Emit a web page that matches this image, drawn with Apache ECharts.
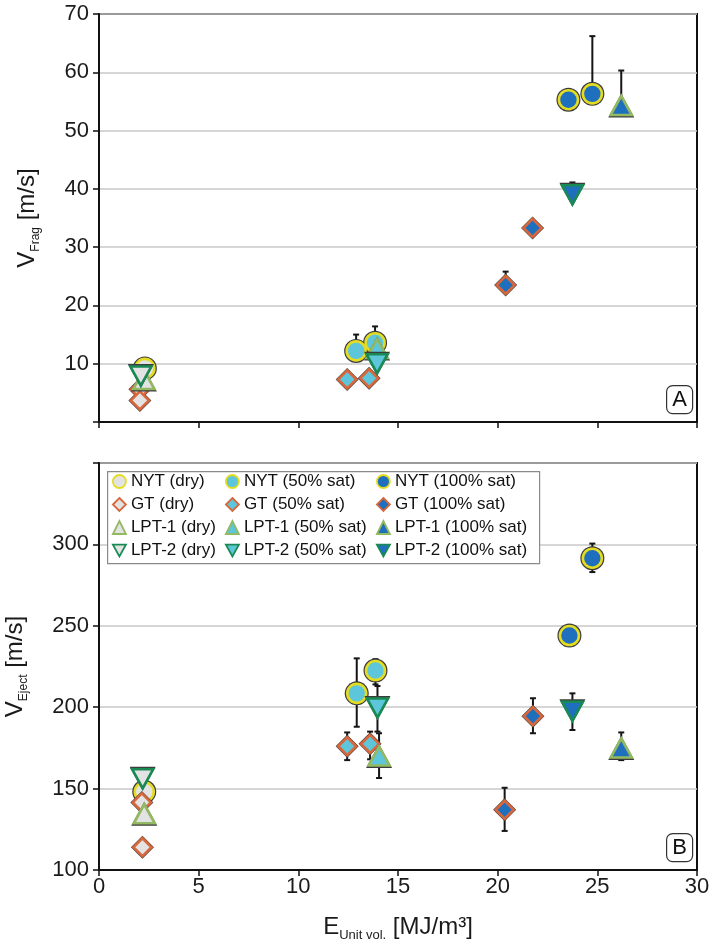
<!DOCTYPE html>
<html><head><meta charset="utf-8">
<script src="https://cdn.jsdelivr.net/npm/echarts@6/dist/echarts.min.js"></script>
<style>html,body{margin:0;padding:0;background:#fff}#c{width:709px;height:947px}</style>
</head><body><div id="c"></div>
<script>
// ---------- DATA ----------
const xTicks = [0, 5, 10, 15, 20, 25, 30];
const fragTicks = [0, 10, 20, 30, 40, 50, 60, 70];
const ejectTicks = [100, 150, 200, 250, 300, 350];

const materials = ['NYT', 'GT', 'LPT-1', 'LPT-2'];
const saturations = ['dry', '50% sat', '100% sat'];

// Panel A: V_Frag [m/s] vs E_Unit vol. [MJ/m3]   [E, V]
const fragNYTdry = [[2.3, 9.2]];
const fragNYT50 = [[12.9, 12.2], [13.85, 13.6]];
const fragNYT100 = [[23.55, 55.3], [24.75, 56.3]];
const fragGTdry = [[2.05, 5.6], [2.05, 3.7]];
const fragGT50 = [[12.45, 7.3], [13.55, 7.5]];
const fragGT100 = [[20.4, 23.5], [21.75, 33.3]];
const fragLPT1dry = [[2.25, 7.3]];
const fragLPT150 = [[13.95, 12.6]];
const fragLPT1100 = [[26.2, 54.3]];
const fragLPT2dry = [[2.1, 7.9]];
const fragLPT250 = [[13.95, 10.0]];
const fragLPT2100 = [[23.75, 39.0]];
// error bars [E, low, high]
const fragErr = [[12.9, 12.2, 15.0], [13.85, 13.6, 16.4], [24.75, 56.3, 66.2],
                 [26.2, 54.3, 60.3], [23.75, 39.0, 41.1], [20.4, 23.5, 25.8]];

// Panel B: V_Eject [m/s] vs E_Unit vol. [MJ/m3]   [E, V]
const ejNYTdry = [[2.27, 148]];
const ejNYT50 = [[12.93, 208.5], [13.87, 222.5]];
const ejNYT100 = [[23.6, 244], [24.75, 291.5]];
const ejGTdry = [[2.15, 141.5], [2.18, 114]];
const ejGT50 = [[12.45, 176], [13.6, 177.5]];
const ejGT100 = [[20.35, 137], [21.77, 194.5]];
const ejLPT1dry = [[2.27, 134.5]];
const ejLPT150 = [[14.05, 170]];
const ejLPT1100 = [[26.2, 175]];
const ejLPT2dry = [[2.19, 156]];
const ejLPT250 = [[13.97, 199.5]];
const ejLPT2100 = [[23.75, 197.5]];
const ejErr = [[12.93, 188, 230], [13.87, 214, 229.5], [23.6, 238.5, 249], [24.75, 283, 300.5],
               [12.45, 167.5, 184.5], [13.6, 168, 185], [20.35, 124, 150.5], [21.77, 184, 205.5],
               [14.05, 156.5, 184], [26.2, 167.5, 184.5], [13.97, 185, 213], [23.75, 186, 208.5]];

// ---------- STYLE ----------
const FONT = 'Liberation Sans, Arial, sans-serif';
const fillBySat = {'dry': '#e3e3e3', '50% sat': '#5ec6db', '100% sat': '#1f6fbf'};
const DOWN_TRI = 'path://M0,0L20,0L10,18Z';
const matStyle = {
  'NYT':   {symbol: 'circle',   size: [19, 19], border: '#e4dc22'},
  'GT':    {symbol: 'diamond',  size: [18, 18], border: '#d8673c'},
  'LPT-1': {symbol: 'triangle', size: [21, 19], border: '#93b963'},
  'LPT-2': {symbol: DOWN_TRI,   size: [21, 19], border: '#1a8a55'}
};
const fragData = {
  'NYT': [fragNYTdry, fragNYT50, fragNYT100], 'GT': [fragGTdry, fragGT50, fragGT100],
  'LPT-1': [fragLPT1dry, fragLPT150, fragLPT1100], 'LPT-2': [fragLPT2dry, fragLPT250, fragLPT2100]
};
const ejData = {
  'NYT': [ejNYTdry, ejNYT50, ejNYT100], 'GT': [ejGTdry, ejGT50, ejGT100],
  'LPT-1': [ejLPT1dry, ejLPT150, ejLPT1100], 'LPT-2': [ejLPT2dry, ejLPT250, ejLPT2100]
};

function errRender(params, api) {
  const x = api.value(0), lo = api.value(1), hi = api.value(2);
  const a = api.coord([x, lo]), b = api.coord([x, hi]);
  const c = 3;
  const st = {stroke: '#151515', lineWidth: 2};
  return {type: 'group', children: [
    {type: 'line', shape: {x1: a[0], y1: a[1], x2: b[0], y2: b[1]}, style: st},
    {type: 'line', shape: {x1: b[0] - c, y1: b[1], x2: b[0] + c, y2: b[1]}, style: st},
    {type: 'line', shape: {x1: a[0] - c, y1: a[1], x2: a[0] + c, y2: a[1]}, style: st}
  ]};
}

const series = [];
series.push({type: 'custom', xAxisIndex: 0, yAxisIndex: 0, data: fragErr, renderItem: errRender, z: 1, silent: true, encode: {x: 0, y: [1, 2]}});
series.push({type: 'custom', xAxisIndex: 1, yAxisIndex: 1, data: ejErr, renderItem: errRender, z: 1, silent: true, encode: {x: 0, y: [1, 2]}});

[[fragData, 0], [ejData, 1]].forEach(([dat, gi]) => {
  materials.forEach(m => {
    saturations.forEach((s, si) => {
      const ms = matStyle[m];
      const name = m + ' (' + s + ')';
      series.push({
        type: 'scatter', name: '_o' + name, xAxisIndex: gi, yAxisIndex: gi, data: dat[m][si],
        symbol: ms.symbol, symbolSize: [ms.size[0] + 5, ms.size[1] + 5],
        itemStyle: {color: '#3c3c3c', opacity: 1}, z: 3, silent: true
      });
      series.push({
        type: 'scatter', name: name, xAxisIndex: gi, yAxisIndex: gi, data: dat[m][si],
        symbol: ms.symbol, symbolSize: ms.size,
        itemStyle: {color: fillBySat[s], borderColor: ms.border, borderWidth: 2.6, opacity: 1}, z: 3
      });
    });
  });
});

const tickLbl = {fontSize: 22, color: '#1a1a1a', fontFamily: FONT};
function xAxisCfg(gi, showLabels) {
  return {
    gridIndex: gi, type: 'value', min: xTicks[0], max: xTicks[xTicks.length - 1], interval: 5,
    axisLine: {show: true, onZero: false, lineStyle: {color: '#111', width: 2}},
    axisTick: {show: true, length: 6, lineStyle: {color: '#111', width: 1.5}},
    axisLabel: Object.assign({show: showLabels, margin: 6}, tickLbl),
    splitLine: {show: false}
  };
}

const legendCols = saturations.map((s, i) => ({
  orient: 'vertical', left: [112, 225, 376][i], top: 473, padding: 0,
  itemWidth: 13, itemHeight: 13, itemGap: 6,
  data: materials.map(m => ({name: m + ' (' + s + ')', icon: m === 'LPT-2' ? DOWN_TRI : undefined})),
  textStyle: {fontSize: 17, color: '#111', fontFamily: FONT},
  itemStyle: {borderWidth: 1.8},
  selectedMode: false, z: 10
}));

function panelLabel(txt, top) {
  return {type: 'group', left: 666, top: top, z: 10, children: [
    {type: 'rect', shape: {x: 0, y: 0, width: 26, height: 28, r: 6}, style: {fill: '#fff', stroke: '#333', lineWidth: 1.2}},
    {type: 'text', x: 13, y: 14, style: {text: txt, fontSize: 22, fontFamily: FONT, fill: '#111', align: 'center', verticalAlign: 'middle'}}
  ]};
}

const nameStyle = (sub) => ({fontSize: 24, color: '#1a1a1a', fontFamily: FONT, lineHeight: 30,
  rich: {sub: {fontSize: sub, fontFamily: FONT, color: '#1a1a1a', verticalAlign: 'bottom', lineHeight: sub}}});

const option = {
  animation: false,
  backgroundColor: '#fff',
  grid: [
    {left: 99, right: 12, top: 14, height: 408, show: true, borderColor: '#111', borderWidth: 2, backgroundColor: 'transparent', outerBoundsMode: 'none', containLabel: false},
    {left: 99, right: 12, top: 463, height: 407, show: true, borderColor: '#111', borderWidth: 2, backgroundColor: 'transparent', outerBoundsMode: 'none', containLabel: false}
  ],
  xAxis: [
    xAxisCfg(0, false),
    Object.assign(xAxisCfg(1, true), {
      name: 'E{sub|Unit vol.} [MJ/m³]', nameLocation: 'middle', nameGap: 42, nameTextStyle: nameStyle(13)
    })
  ],
  yAxis: [
    {gridIndex: 0, type: 'value', min: fragTicks[0], max: fragTicks[fragTicks.length - 1], interval: 10,
     axisLine: {show: true, lineStyle: {color: '#111', width: 2}},
     axisTick: {show: true, length: 6, lineStyle: {color: '#111', width: 1.5}},
     axisLabel: Object.assign({margin: 10, formatter: v => v === 0 ? '' : String(v)}, tickLbl),
     splitLine: {show: true, lineStyle: {color: '#c9c9c9', width: 1.5}},
     name: 'V{sub|Frag} [m/s]', nameLocation: 'middle', nameRotate: 90, nameGap: 57, nameTextStyle: nameStyle(12)
    },
    {gridIndex: 1, type: 'value', min: ejectTicks[0], max: ejectTicks[ejectTicks.length - 1], interval: 50,
     axisLine: {show: true, lineStyle: {color: '#111', width: 2}},
     axisTick: {show: true, length: 6, lineStyle: {color: '#111', width: 1.5}},
     axisLabel: Object.assign({margin: 10, formatter: v => v === 350 ? '' : String(v)}, tickLbl),
     splitLine: {show: true, lineStyle: {color: '#c9c9c9', width: 1.5}},
     name: 'V{sub|Eject} [m/s]', nameLocation: 'middle', nameRotate: 90, nameGap: 69, nameTextStyle: nameStyle(12)
    }
  ],
  legend: legendCols,
  graphic: [
    {type: 'rect', left: 107, top: 471, z: 5, shape: {width: 432, height: 92}, style: {fill: '#fff', stroke: '#8a8a8a', lineWidth: 1.2}},
    panelLabel('A', 385),
    panelLabel('B', 833)
  ],
  series: series
};

const chart = echarts.init(document.getElementById('c'), null, {renderer: 'canvas'});
chart.setOption(option);
</script>
</body></html>
